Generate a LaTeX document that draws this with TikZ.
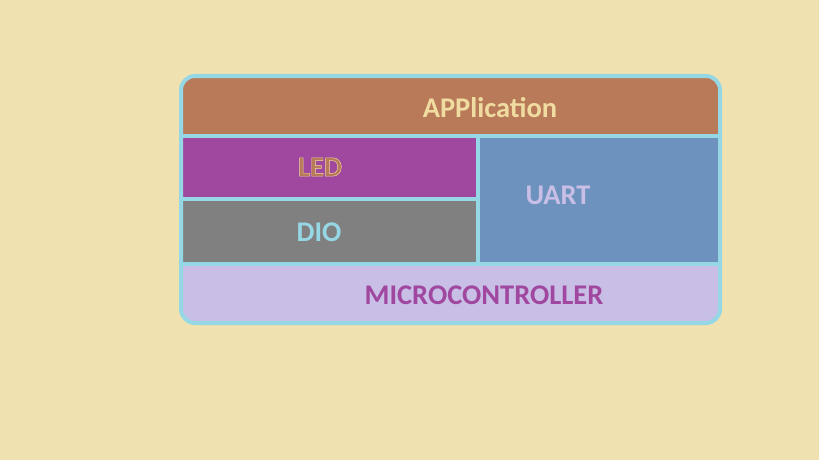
\documentclass[tikz,border=0pt]{standalone}
\usepackage{fontspec}
\setmainfont{Carlito}
\definecolor{bg}{RGB}{240,226,176}
\definecolor{appc}{RGB}{184,122,88}
\definecolor{ledc}{RGB}{160,72,160}
\definecolor{dioc}{RGB}{128,128,128}
\definecolor{uartc}{RGB}{110,146,190}
\definecolor{mcuc}{RGB}{200,190,230}
\definecolor{linec}{RGB}{150,215,230}
\definecolor{cream}{RGB}{240,220,160}
\newcommand{\outlinetext}[1]{\special{pdf:literal direct 2 Tr 0.45 w 0.941 0.863 0.627 RG}#1\special{pdf:literal direct 0 Tr}}
\tikzset{
  lbl/.style={font=\fontsize{28.5}{32}\selectfont\bfseries, inner sep=0pt, anchor=center},
  sep/.style={draw=linec, line width=4pt},
}
\begin{document}
\begin{tikzpicture}[x=1pt,y=-1pt]
\fill[bg] (0,0) rectangle (819,460);
\useasboundingbox (0,0) rectangle (819,460);
\begin{scope}
\clip[rounded corners=14pt] (181,76) rectangle (720,323);
\fill[appc] (181,76) rectangle (720,136);
\fill[ledc] (181,136) rectangle (478,199);
\fill[dioc] (181,199) rectangle (478,264);
\fill[uartc] (478,136) rectangle (720,264);
\fill[mcuc] (181,264) rectangle (720,323);
\end{scope}
\draw[sep] (181,136) -- (720,136);
\draw[sep] (181,199) -- (480,199);
\draw[sep] (181,264) -- (722,264);
\draw[sep] (478,134) -- (478,266);
\draw[sep, rounded corners=14pt] (181,76) rectangle (720,323);
\node[lbl, text=cream] (app) at (490,108) {APPlication};
\node[lbl, text=appc] (led) at (320,167) {\outlinetext{LED}};
\node[lbl, text=linec] (dio) at (319,232) {DIO};
\node[lbl, text=mcuc] (uart) at (558,195) {UART};
\node[lbl, text=ledc] (mcu) at (484,295) {MICROCONTROLLER};
\end{tikzpicture}
\end{document}
